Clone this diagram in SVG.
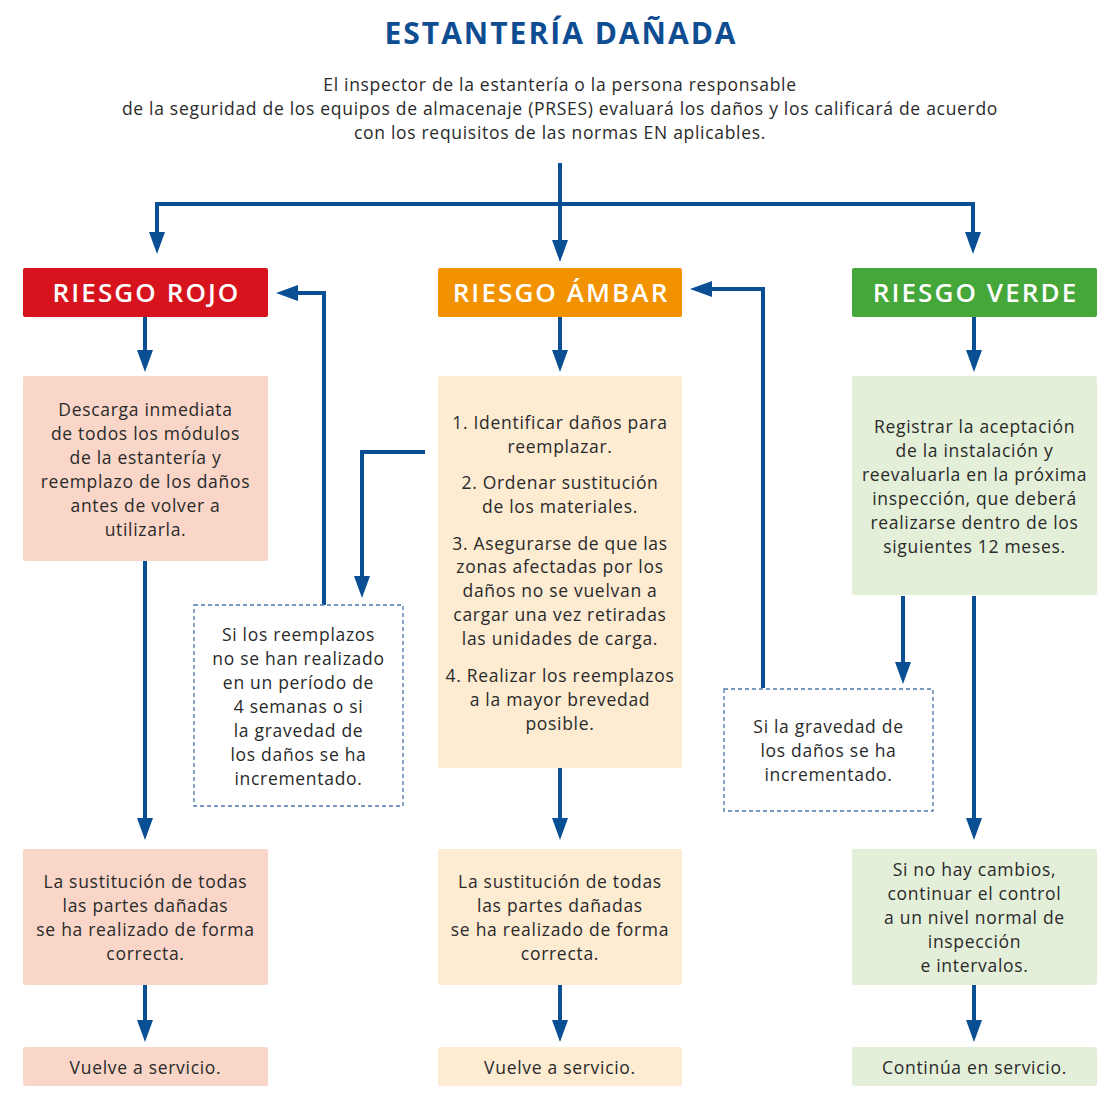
<svg xmlns="http://www.w3.org/2000/svg" width="1120" height="1110" viewBox="0 0 1120 1110">
<style>
.t{font-family:"Open Sans","Liberation Sans",sans-serif;font-size:17.5px;letter-spacing:0.7px;fill:#2a2a2a;text-anchor:middle}
.h{font-family:"Open Sans","Liberation Sans",sans-serif;font-size:26px;font-weight:600;letter-spacing:2.1px;fill:#ffffff;text-anchor:middle}
.ttl{font-family:"Open Sans","Liberation Sans",sans-serif;font-size:30px;font-weight:700;letter-spacing:2px;fill:#0f4d92;text-anchor:middle}
.c{fill:none;stroke:#0a4f94;stroke-width:4;marker-end:url(#ah)}
.d{fill:#ffffff;stroke:#4a77ad;stroke-width:1.3;stroke-dasharray:4 3}
</style>
<defs>
<marker id="ah" viewBox="0 0 22 16" refX="12" refY="8" markerWidth="22" markerHeight="16" markerUnits="userSpaceOnUse" orient="auto">
<path d="M0,0 L22,8 L0,16 z" fill="#0a4f94"/>
</marker>
</defs>
<rect width="1120" height="1110" fill="#ffffff"/>
<g id="title">
<text class="ttl" x="561" y="44">ESTANTERÍA DAÑADA</text>
<text class="t" x="560" y="91">El inspector de la estantería o la persona responsable</text>
<text class="t" x="560" y="115">de la seguridad de los equipos de almacenaje (PRSES) evaluará los daños y los calificará de acuerdo</text>
<text class="t" x="560" y="139">con los requisitos de las normas EN aplicables.</text>
</g>
<g id="connectors">
<path class="c" d="M560,163 V252"/>
<path class="c" d="M560,204 H157 V244"/>
<path class="c" d="M560,204 H973 V244"/>
<path class="c" d="M145,317 V362"/>
<path class="c" d="M145,561 V830"/>
<path class="c" d="M145,985 V1032"/>
<path class="c" d="M324,605 V293 H286"/>
<path class="c" d="M425,452 H362 V588"/>
<path class="c" d="M560,317 V362"/>
<path class="c" d="M560,768 V830"/>
<path class="c" d="M560,985 V1032"/>
<path class="c" d="M763,688 V289 H700"/>
<path class="c" d="M974,317 V362"/>
<path class="c" d="M903,596 V674"/>
<path class="c" d="M974,596 V830"/>
<path class="c" d="M974,985 V1032"/>
</g>
<g id="rojo">
<rect x="23" y="268" width="245" height="49" rx="2" fill="#d7141d"/>
<text class="h" x="146.5" y="302">RIESGO ROJO</text>
</g>
<g id="ambar">
<rect x="438" y="268" width="244" height="49" rx="2" fill="#f39200"/>
<text class="h" x="561" y="302">RIESGO ÁMBAR</text>
</g>
<g id="verde">
<rect x="852" y="268" width="245" height="49" rx="2" fill="#45a63a"/>
<text class="h" x="975.5" y="302">RIESGO VERDE</text>
</g>
<g id="rojo-accion">
<rect x="23" y="376" width="245" height="185" rx="2" fill="#f9d6c8"/>
<text class="t" x="145.5" y="416">Descarga inmediata</text>
<text class="t" x="145.5" y="440">de todos los módulos</text>
<text class="t" x="145.5" y="464">de la estantería y</text>
<text class="t" x="145.5" y="488">reemplazo de los daños</text>
<text class="t" x="145.5" y="512">antes de volver a</text>
<text class="t" x="145.5" y="536">utilizarla.</text>
</g>
<g id="ambar-accion">
<rect x="438" y="376" width="244" height="392" rx="2" fill="#fdebd2"/>
<text class="t" x="560" y="429">1. Identificar daños para</text>
<text class="t" x="560" y="453">reemplazar.</text>
<text class="t" x="560" y="489">2. Ordenar sustitución</text>
<text class="t" x="560" y="513">de los materiales.</text>
<text class="t" x="560" y="550">3. Asegurarse de que las</text>
<text class="t" x="560" y="573">zonas afectadas por los</text>
<text class="t" x="560" y="597">daños no se vuelvan a</text>
<text class="t" x="560" y="621">cargar una vez retiradas</text>
<text class="t" x="560" y="645">las unidades de carga.</text>
<text class="t" x="560" y="682">4. Realizar los reemplazos</text>
<text class="t" x="560" y="706">a la mayor brevedad</text>
<text class="t" x="560" y="730">posible.</text>
</g>
<g id="verde-accion">
<rect x="852" y="376" width="245" height="219" rx="2" fill="#e3efd9"/>
<text class="t" x="974.5" y="433">Registrar la aceptación</text>
<text class="t" x="974.5" y="457">de la instalación y</text>
<text class="t" x="974.5" y="481">reevaluarla en la próxima</text>
<text class="t" x="974.5" y="505">inspección, que deberá</text>
<text class="t" x="974.5" y="529">realizarse dentro de los</text>
<text class="t" x="974.5" y="553">siguientes 12 meses.</text>
</g>
<g id="condicion-rojo">
<rect class="d" x="194" y="605" width="209" height="201"/>
<text class="t" x="298.5" y="641">Si los reemplazos</text>
<text class="t" x="298.5" y="665">no se han realizado</text>
<text class="t" x="298.5" y="689">en un período de</text>
<text class="t" x="298.5" y="713">4 semanas o si</text>
<text class="t" x="298.5" y="737">la gravedad de</text>
<text class="t" x="298.5" y="761">los daños se ha</text>
<text class="t" x="298.5" y="785">incrementado.</text>
</g>
<g id="condicion-verde">
<rect class="d" x="724" y="689" width="209" height="122"/>
<text class="t" x="828.5" y="733">Si la gravedad de</text>
<text class="t" x="828.5" y="757">los daños se ha</text>
<text class="t" x="828.5" y="781">incrementado.</text>
</g>
<g id="rojo-sustitucion">
<rect x="23" y="849" width="245" height="136" rx="2" fill="#f9d6c8"/>
<text class="t" x="145.5" y="888">La sustitución de todas</text>
<text class="t" x="145.5" y="912">las partes dañadas</text>
<text class="t" x="145.5" y="936">se ha realizado de forma</text>
<text class="t" x="145.5" y="960">correcta.</text>
</g>
<g id="ambar-sustitucion">
<rect x="438" y="849" width="244" height="136" rx="2" fill="#fdebd2"/>
<text class="t" x="560" y="888">La sustitución de todas</text>
<text class="t" x="560" y="912">las partes dañadas</text>
<text class="t" x="560" y="936">se ha realizado de forma</text>
<text class="t" x="560" y="960">correcta.</text>
</g>
<g id="verde-control">
<rect x="852" y="849" width="245" height="136" rx="2" fill="#e3efd9"/>
<text class="t" x="974.5" y="876">Si no hay cambios,</text>
<text class="t" x="974.5" y="900">continuar el control</text>
<text class="t" x="974.5" y="924">a un nivel normal de</text>
<text class="t" x="974.5" y="948">inspección</text>
<text class="t" x="974.5" y="972">e intervalos.</text>
</g>
<g id="rojo-servicio">
<rect x="23" y="1047" width="245" height="39" rx="2" fill="#f9d6c8"/>
<text class="t" x="145.5" y="1074">Vuelve a servicio.</text>
</g>
<g id="ambar-servicio">
<rect x="438" y="1047" width="244" height="39" rx="2" fill="#fdebd2"/>
<text class="t" x="560" y="1074">Vuelve a servicio.</text>
</g>
<g id="verde-servicio">
<rect x="852" y="1047" width="245" height="39" rx="2" fill="#e3efd9"/>
<text class="t" x="974.5" y="1074">Continúa en servicio.</text>
</g>
</svg>
